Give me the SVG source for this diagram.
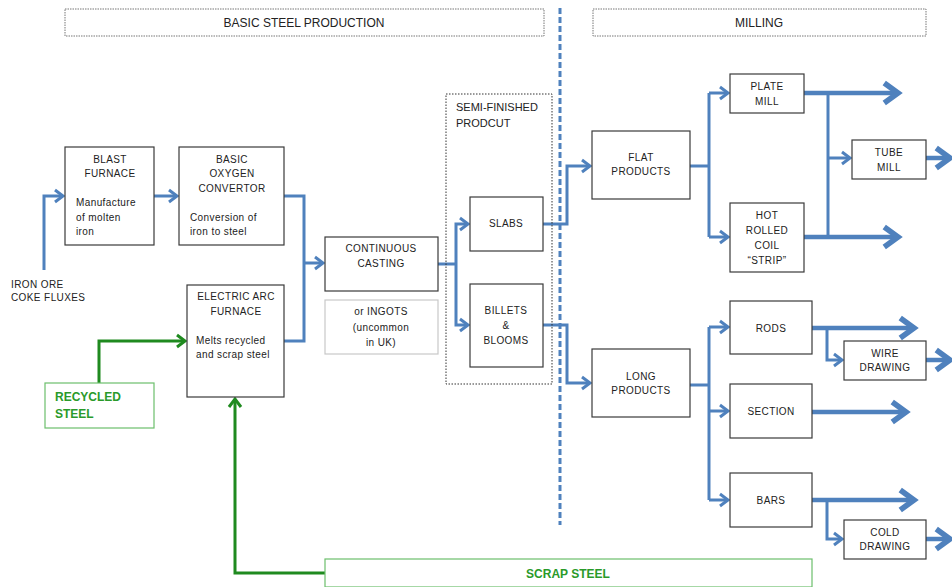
<svg xmlns="http://www.w3.org/2000/svg" width="952" height="587" viewBox="0 0 952 587">
<defs>
<style>
.box{fill:#fff;stroke:#3a3a3a;stroke-width:1.2}
.hdr{fill:#fff;stroke:#777;stroke-width:1;stroke-dasharray:1.5 1}
.t{font-family:"Liberation Sans",Arial,sans-serif;font-size:10px;fill:#222;letter-spacing:0.4px}
.tc{text-anchor:middle}
.h{font-size:12px;letter-spacing:0}
.c{fill:none;stroke:#4f81bd;stroke-width:3}
.o{fill:none;stroke:#4f81bd;stroke-width:4.5}
.g{fill:none;stroke:#1f8a1f;stroke-width:3}
.gt{font-family:"Liberation Sans",Arial,sans-serif;font-size:12px;font-weight:bold;fill:#2a9a2a}
</style>
<marker id="a" markerUnits="userSpaceOnUse" markerWidth="20" markerHeight="20" refX="0" refY="0" viewBox="-12 -10 14 20" orient="auto" overflow="visible">
<path d="M-8,-6 L0,0 L-8,6" fill="none" stroke="#4f81bd" stroke-width="3"/>
</marker>
<marker id="ab" markerUnits="userSpaceOnUse" markerWidth="30" markerHeight="30" refX="0" refY="0" viewBox="-16 -12 20 24" orient="auto" overflow="visible">
<path d="M-11,-8 L0,0 L-11,8" fill="none" stroke="#4f81bd" stroke-width="4.5"/>
</marker>
<marker id="ag" markerUnits="userSpaceOnUse" markerWidth="20" markerHeight="20" refX="0" refY="0" viewBox="-12 -10 14 20" orient="auto" overflow="visible">
<path d="M-8,-6 L0,0 L-8,6" fill="none" stroke="#1f8a1f" stroke-width="3"/>
</marker>
</defs>
<rect width="952" height="587" fill="#fff"/>

<g id="headers">
<rect class="hdr" x="65" y="9" width="479" height="27"/>
<text class="t tc h" x="304" y="27">BASIC STEEL PRODUCTION</text>
<rect class="hdr" x="593" y="9" width="333" height="27"/>
<text class="t tc h" x="759" y="27">MILLING</text>
</g>

<g id="connectors">
<line x1="560" y1="8" x2="560" y2="525" stroke="#4f81bd" stroke-width="3" stroke-dasharray="6 3"/>
<polyline class="c" points="44,270 44,196 63,196" marker-end="url(#a)"/>
<polyline class="c" points="154,196 177,196" marker-end="url(#a)"/>
<polyline class="c" points="284,196 304,196 304,341 284,341"/>
<polyline class="c" points="304,263 323,263" marker-end="url(#a)"/>
<polyline class="c" points="438,264 456,264"/>
<polyline class="c" points="456,264 456,224 468,224" marker-end="url(#a)"/>
<polyline class="c" points="456,264 456,325 468,325" marker-end="url(#a)"/>
<polyline class="c" points="543,224 567,224 567,166 590,166" marker-end="url(#a)"/>
<polyline class="c" points="543,325 567,325 567,383 590,383" marker-end="url(#a)"/>
<polyline class="c" points="690,166 709,166"/>
<polyline class="c" points="709,93 709,237"/>
<polyline class="c" points="709,93 728,93" marker-end="url(#a)"/>
<polyline class="c" points="709,237 728,237" marker-end="url(#a)"/>
<polyline class="c" points="828,93 828,237"/>
<polyline class="c" points="828,158 850,158" marker-end="url(#a)"/>
<polyline class="o" points="804,93 898,93" marker-end="url(#ab)"/>
<polyline class="o" points="804,237 898,237" marker-end="url(#ab)"/>
<polyline class="o" points="926,158 950,158" marker-end="url(#ab)"/>
<polyline class="c" points="690,385 709,385"/>
<polyline class="c" points="709,327 709,500"/>
<polyline class="c" points="709,327 728,327" marker-end="url(#a)"/>
<polyline class="c" points="709,411 728,411" marker-end="url(#a)"/>
<polyline class="c" points="709,500 728,500" marker-end="url(#a)"/>
<polyline class="o" points="812,328 914,328" marker-end="url(#ab)"/>
<polyline class="c" points="827,328 827,360 842,360" marker-end="url(#a)"/>
<polyline class="o" points="926,360 950,360" marker-end="url(#ab)"/>
<polyline class="o" points="812,412 906,412" marker-end="url(#ab)"/>
<polyline class="o" points="812,500 914,500" marker-end="url(#ab)"/>
<polyline class="c" points="827,500 827,539 842,539" marker-end="url(#a)"/>
<polyline class="o" points="926,539 950,539" marker-end="url(#ab)"/>
<polyline class="g" points="99,383 99,341 185,341" marker-end="url(#ag)"/>
<polyline class="g" points="325,573 235,573 235,399" marker-end="url(#ag)"/>
</g>

<g id="iron-ore">
<text class="t" x="11" y="288">IRON ORE</text>
<text class="t" x="11" y="301">COKE FLUXES</text>
</g>

<g id="blast-furnace">
<rect class="box" x="65" y="147" width="89" height="98"/>
<text class="t tc" x="110" y="163">BLAST</text>
<text class="t tc" x="110" y="177">FURNACE</text>
<text class="t" x="76" y="206">Manufacture</text>
<text class="t" x="76" y="221">of molten</text>
<text class="t" x="76" y="235">iron</text>
</g>

<g id="boc">
<rect class="box" x="179" y="147" width="105" height="98"/>
<text class="t tc" x="232" y="163">BASIC</text>
<text class="t tc" x="232" y="177">OXYGEN</text>
<text class="t tc" x="232" y="192">CONVERTOR</text>
<text class="t" x="190" y="221">Conversion of</text>
<text class="t" x="190" y="235">iron to steel</text>
</g>

<g id="eaf">
<rect class="box" x="187" y="285" width="97" height="112"/>
<text class="t tc" x="236" y="300">ELECTRIC ARC</text>
<text class="t tc" x="236" y="315">FURNACE</text>
<text class="t" x="196" y="344">Melts recycled</text>
<text class="t" x="196" y="358">and scrap steel</text>
</g>

<g id="recycled-steel">
<rect x="45" y="383" width="109" height="45" fill="#fff" stroke="#6cbf6c" stroke-width="1.2"/>
<text class="gt" x="55" y="401">RECYCLED</text>
<text class="gt" x="55" y="418">STEEL</text>
</g>

<g id="scrap-steel">
<rect x="325" y="559" width="487" height="28" fill="#fff" stroke="#6cbf6c" stroke-width="1.2"/>
<text class="gt" x="568" y="578" text-anchor="middle">SCRAP STEEL</text>
</g>

<g id="continuous-casting">
<rect class="box" x="325" y="237" width="113" height="54"/>
<text class="t tc" x="381" y="252">CONTINUOUS</text>
<text class="t tc" x="381" y="267">CASTING</text>
</g>

<g id="ingots">
<rect x="325" y="300" width="113" height="54" fill="#fff" stroke="#c8c8c8" stroke-width="1.2"/>
<text class="t tc" x="381" y="315">or INGOTS</text>
<text class="t tc" x="381" y="331">(uncommon</text>
<text class="t tc" x="381" y="346">in UK)</text>
</g>

<g id="semi-finished">
<rect x="446" y="94" width="106" height="290" fill="none" stroke="#333" stroke-width="1" stroke-dasharray="1.5 1.5"/>
<text class="t" x="456" y="111" style="font-size:11px;letter-spacing:0">SEMI-FINISHED</text>
<text class="t" x="456" y="127" style="font-size:11px;letter-spacing:0">PRODCUT</text>
</g>

<g id="slabs">
<rect class="box" x="470" y="197" width="73" height="54" stroke-width="1.6"/>
<text class="t tc" x="506" y="227">SLABS</text>
</g>

<g id="billets">
<rect class="box" x="470" y="284" width="73" height="83" stroke-width="1.6"/>
<text class="t tc" x="506" y="314">BILLETS</text>
<text class="t tc" x="506" y="329">&amp;</text>
<text class="t tc" x="506" y="344">BLOOMS</text>
</g>

<g id="flat-products">
<rect class="box" x="592" y="131" width="98" height="68"/>
<text class="t tc" x="641" y="161">FLAT</text>
<text class="t tc" x="641" y="175">PRODUCTS</text>
</g>

<g id="plate-mill">
<rect class="box" x="730" y="74" width="74" height="39"/>
<text class="t tc" x="767" y="90">PLATE</text>
<text class="t tc" x="767" y="105">MILL</text>
</g>

<g id="hot-rolled">
<rect class="box" x="730" y="203" width="74" height="69"/>
<text class="t tc" x="767" y="219">HOT</text>
<text class="t tc" x="767" y="234">ROLLED</text>
<text class="t tc" x="767" y="249">COIL</text>
<text class="t tc" x="767" y="264">“STRIP”</text>
</g>

<g id="tube-mill">
<rect class="box" x="852" y="140" width="74" height="39"/>
<text class="t tc" x="889" y="156">TUBE</text>
<text class="t tc" x="889" y="171">MILL</text>
</g>

<g id="long-products">
<rect class="box" x="592" y="349" width="98" height="68"/>
<text class="t tc" x="641" y="380">LONG</text>
<text class="t tc" x="641" y="394">PRODUCTS</text>
</g>

<g id="rods">
<rect class="box" x="730" y="301" width="82" height="53"/>
<text class="t tc" x="771" y="332">RODS</text>
</g>

<g id="wire-drawing">
<rect class="box" x="844" y="341" width="82" height="39"/>
<text class="t tc" x="885" y="357">WIRE</text>
<text class="t tc" x="885" y="371">DRAWING</text>
</g>

<g id="section">
<rect class="box" x="730" y="384" width="82" height="54"/>
<text class="t tc" x="771" y="415">SECTION</text>
</g>

<g id="bars">
<rect class="box" x="730" y="473" width="82" height="54"/>
<text class="t tc" x="771" y="504">BARS</text>
</g>

<g id="cold-drawing">
<rect class="box" x="844" y="520" width="82" height="39"/>
<text class="t tc" x="885" y="536">COLD</text>
<text class="t tc" x="885" y="550">DRAWING</text>
</g>
</svg>
